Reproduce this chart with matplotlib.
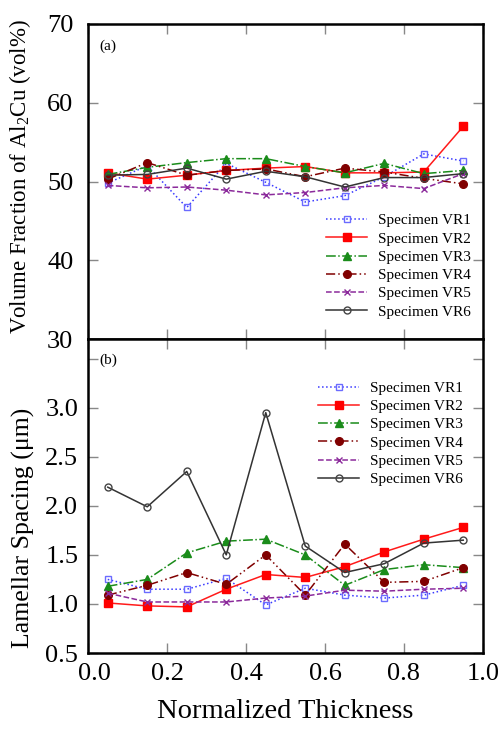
import matplotlib
matplotlib.use("Agg")
import matplotlib.pyplot as plt
from matplotlib.transforms import ScaledTranslation

plt.rcParams['font.family'] = ['Liberation Serif', 'DejaVu Serif']
plt.rcParams['mathtext.fontset'] = 'custom'
plt.rcParams['mathtext.rm'] = 'Liberation Serif'

thickness = [0.05, 0.15, 0.25, 0.35, 0.45, 0.55, 0.65, 0.75, 0.85, 0.95]

specimens = ["Specimen VR1", "Specimen VR2", "Specimen VR3",
             "Specimen VR4", "Specimen VR5", "Specimen VR6"]

# Volume fraction of Al2Cu (vol%)
vf_vr1 = [49.8, 52.0, 46.7, 52.3, 49.9, 47.4, 48.2, 50.6, 53.5, 52.6]
vf_vr2 = [51.1, 50.3, 50.8, 51.4, 51.7, 51.9, 51.1, 51.1, 51.2, 57.0]
vf_vr3 = [50.9, 51.8, 52.4, 52.9, 52.9, 51.9, 51.1, 52.3, 51.0, 51.4]
vf_vr4 = [50.3, 52.4, 50.8, 51.4, 51.6, 50.6, 51.7, 51.2, 50.4, 49.7]
vf_vr5 = [49.5, 49.2, 49.3, 48.9, 48.3, 48.6, 49.2, 49.5, 49.1, 51.0]
vf_vr6 = [50.8, 50.9, 51.7, 50.3, 51.3, 50.6, 49.3, 50.5, 50.5, 51.0]

# Lamellar spacing (um)
ls_vr1 = [1.25, 1.15, 1.15, 1.26, 0.99, 1.16, 1.09, 1.06, 1.09, 1.19]
ls_vr2 = [1.01, 0.98, 0.97, 1.15, 1.30, 1.27, 1.38, 1.53, 1.66, 1.78]
ls_vr3 = [1.18, 1.25, 1.52, 1.64, 1.66, 1.50, 1.19, 1.35, 1.40, 1.37]
ls_vr4 = [1.09, 1.19, 1.32, 1.20, 1.50, 1.09, 1.61, 1.22, 1.23, 1.37]
ls_vr5 = [1.11, 1.02, 1.02, 1.02, 1.06, 1.08, 1.14, 1.13, 1.15, 1.16]
ls_vr6 = [2.19, 1.99, 2.35, 1.50, 2.95, 1.59, 1.32, 1.41, 1.62, 1.65]

x_ticks = [0.0, 0.2, 0.4, 0.6, 0.8, 1.0]
vf_ticks = [30, 40, 50, 60, 70]
ls_ticks = [0.5, 1.0, 1.5, 2.0, 2.5, 3.0, 3.5]
ls_tick_labels = ['0.5', '1.0', '1.5', '2.0', '2.5', '3.0', '']

styles = [
    dict(color='#3a3aff', linestyle=':', marker='s', mfc='none', mec='#6b6bff', ms=5),
    dict(color='#ff1a1a', linestyle='-', marker='s', mfc='#ff0000', mec='#ff0000', ms=5.5),
    dict(color='#1a8c1a', linestyle='-.', marker='^', mfc='#1a8c1a', mec='#1a8c1a', ms=5.5),
    dict(color='#800000', linestyle=(0, (6, 2, 1, 2, 1, 2)), marker='o', mfc='#800000', mec='#800000', ms=5.5),
    dict(color='#8b2a9b', linestyle='--', marker='x', mfc='none', mec='#8b2a9b', ms=5),
    dict(color='#333333', linestyle='-', marker='o', mfc='none', mec='#444444', ms=5),
]

fig = plt.figure(figsize=(5.01, 7.29), dpi=100)
ax1 = fig.add_axes([88/501, 1-339/729, 395/501, 315/729])
ax2 = fig.add_axes([88/501, 1-653/729, 395/501, 314/729])

vf_series = [vf_vr1, vf_vr2, vf_vr3, vf_vr4, vf_vr5, vf_vr6]
ls_series = [ls_vr1, ls_vr2, ls_vr3, ls_vr4, ls_vr5, ls_vr6]

for name, vals, st in zip(specimens, vf_series, styles):
    ax1.plot(thickness, vals, lw=1.1, label=name, **st)
for name, vals, st in zip(specimens, ls_series, styles):
    ax2.plot(thickness, vals, lw=1.1, label=name, **st)

for ax in (ax1, ax2):
    ax.set_xlim(0, 1.0)
    for sp in ax.spines.values():
        sp.set_linewidth(1.8)
    ax.tick_params(direction='in', length=7, width=1, color='#888888',
                   top=True, right=True, labelsize=19)
    ax.set_xticks(x_ticks)

ax1.set_ylim(30, 70)
ax1.set_yticks(vf_ticks)
ax1.tick_params(axis='y', pad=10.5)
ax1.tick_params(labelbottom=False)
ax1.set_ylabel('Volume Fraction of Al$_2$Cu (vol%)', fontsize=16.5)
ax1.yaxis.set_label_coords(-0.138, 0.515)
ax1.text(0.03, 0.95, '(a)', transform=ax1.transAxes, fontsize=11, va='top')
ax1.legend(loc='lower right', bbox_to_anchor=(0.985, 0.045), frameon=False, fontsize=11,
           handlelength=2.7, handletextpad=0.7, labelspacing=0.3, borderaxespad=0.0)

ax2.set_ylim(0.5, 3.7)
ax2.set_yticks(ls_ticks)
ax2.set_yticklabels(ls_tick_labels)
ax2.tick_params(axis='y', pad=7)
ax2.tick_params(axis='x', pad=7)
ax2.set_ylabel('Lamellar Spacing (\u03bcm)', fontsize=18.5)
ax2.yaxis.set_label_coords(-0.135, 0.40)
ax2.set_xlabel('Normalized Thickness', fontsize=20.5, labelpad=10)
ax2.text(0.03, 0.955, '(b)', transform=ax2.transAxes, fontsize=11, va='top')
ax2.legend(loc='upper right', bbox_to_anchor=(0.965, 0.885), frameon=False, fontsize=11,
           handlelength=2.7, handletextpad=0.7, labelspacing=0.3, borderaxespad=0.0)

# nudge the first x tick label to the right so it clears the 0.5 label
first = ax2.get_xticklabels()[0]
first.set_transform(first.get_transform() + ScaledTranslation(6/100, 0, fig.dpi_scale_trans))

fig.savefig('out.png', dpi=100)
